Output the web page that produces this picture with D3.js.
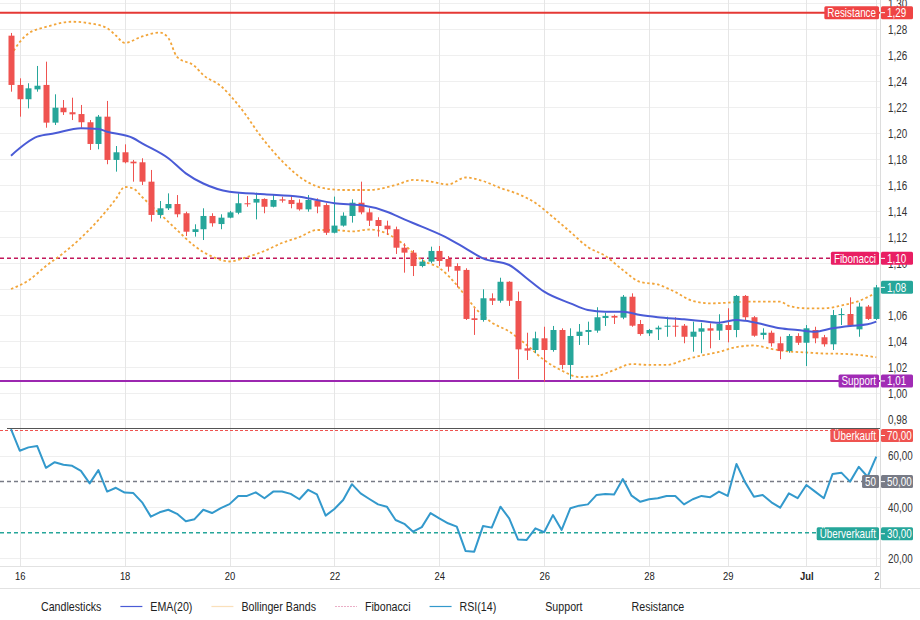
<!DOCTYPE html>
<html>
<head>
<meta charset="utf-8">
<script src="https://cdnjs.cloudflare.com/ajax/libs/d3/7.8.5/d3.min.js"></script>
<style>
body { margin: 0; background: #fff; }
svg text { font-family: "Liberation Sans", Arial, sans-serif; }
</style>
</head>
<body>
<svg id="chart" width="920" height="620"></svg>
<script>
var width = 920;
var height = 620;

// time axis
var tickIdx = [1, 13, 25, 37, 49, 61, 73, 82, 91, 99];
var tickLabels = ["16", "18", "20", "22", "24", "26", "28", "29", "Jul", "2"];

// candles
var open = [1.2751, 1.2372, 1.2262, 1.2338, 1.2372, 1.2082, 1.2197, 1.2162, 1.2148, 1.2085,
    1.1918, 1.2128, 1.1795, 1.1854, 1.1782, 1.1777, 1.1628, 1.1372, 1.1423, 1.1456,
    1.1385, 1.1241, 1.1262, 1.1364, 1.1302, 1.1351, 1.1389, 1.1462, 1.1467, 1.1495,
    1.1435, 1.1492, 1.1487, 1.1466, 1.1415, 1.1482, 1.1448, 1.1235, 1.1290, 1.1364,
    1.1466, 1.1392, 1.1333, 1.1290, 1.1262, 1.1120, 1.1082, 1.0979, 1.1013, 1.1095,
    1.1033, 1.0979, 1.0949, 1.0577, 1.0564, 1.0731, 1.0712, 1.0858, 1.0710, 1.0346,
    1.0333, 1.0423, 1.0333, 1.0487, 1.0218, 1.0441, 1.0472, 1.0482, 1.0579, 1.0595,
    1.0582, 1.0743, 1.0533, 1.0461, 1.0492, 1.0512, 1.0520, 1.0520, 1.0435, 1.0474,
    1.0500, 1.0482, 1.0525, 1.0487, 1.0749, 1.0585, 1.0449, 1.0466, 1.0385, 1.0325,
    1.0441, 1.0389, 1.0487, 1.0431, 1.0377, 1.0602, 1.0610, 1.0492, 1.0667, 1.0572];
var high = [1.2772, 1.2423, 1.2385, 1.2518, 1.2551, 1.2300, 1.2256, 1.2274, 1.2218, 1.2102,
    1.2141, 1.2249, 1.1902, 1.1915, 1.1795, 1.1808, 1.1718, 1.1479, 1.1538, 1.1525,
    1.1397, 1.1300, 1.1423, 1.1385, 1.1377, 1.1403, 1.1538, 1.1518, 1.1543, 1.1500,
    1.1533, 1.1512, 1.1518, 1.1492, 1.1525, 1.1500, 1.1462, 1.1513, 1.1392, 1.1492,
    1.1628, 1.1423, 1.1354, 1.1328, 1.1282, 1.1154, 1.1102, 1.1031, 1.1128, 1.1133,
    1.1056, 1.1000, 1.0962, 1.0654, 1.0800, 1.0769, 1.0889, 1.0862, 1.0782, 1.0466,
    1.0474, 1.0512, 1.0518, 1.0500, 1.0500, 1.0533, 1.0551, 1.0662, 1.0620, 1.0605,
    1.0756, 1.0769, 1.0564, 1.0495, 1.0520, 1.0589, 1.0585, 1.0533, 1.0551, 1.0543,
    1.0538, 1.0608, 1.0654, 1.0756, 1.0756, 1.0594, 1.0500, 1.0482, 1.0436, 1.0456,
    1.0462, 1.0525, 1.0512, 1.0449, 1.0641, 1.0654, 1.0738, 1.0697, 1.0679, 1.0833];
var low = [1.2320, 1.2128, 1.2192, 1.2320, 1.2043, 1.2064, 1.2141, 1.2102, 1.2043, 1.1872,
    1.1877, 1.1762, 1.1705, 1.1769, 1.1628, 1.1602, 1.1321, 1.1346, 1.1410, 1.1354,
    1.1210, 1.1205, 1.1179, 1.1282, 1.1262, 1.1346, 1.1377, 1.1435, 1.1338, 1.1385,
    1.1430, 1.1467, 1.1423, 1.1405, 1.1397, 1.1385, 1.1218, 1.1230, 1.1282, 1.1313,
    1.1377, 1.1287, 1.1205, 1.1218, 1.1072, 1.0928, 1.0902, 1.0969, 1.1000, 1.0979,
    1.0936, 1.0815, 1.0564, 1.0449, 1.0551, 1.0679, 1.0697, 1.0672, 1.0108, 1.0256,
    1.0308, 1.0089, 1.0320, 1.0185, 1.0108, 1.0372, 1.0372, 1.0466, 1.0518, 1.0533,
    1.0570, 1.0512, 1.0443, 1.0441, 1.0410, 1.0435, 1.0435, 1.0385, 1.0320, 1.0308,
    1.0346, 1.0410, 1.0392, 1.0431, 1.0564, 1.0435, 1.0415, 1.0359, 1.0262, 1.0312,
    1.0372, 1.0210, 1.0385, 1.0359, 1.0333, 1.0525, 1.0510, 1.0435, 1.0564, 1.0564];
var close = [1.2372, 1.2262, 1.2346, 1.2366, 1.2082, 1.2197, 1.2162, 1.2146, 1.2085, 1.1918,
    1.2128, 1.1795, 1.1854, 1.1777, 1.1769, 1.1628, 1.1372, 1.1423, 1.1456, 1.1377,
    1.1243, 1.1262, 1.1364, 1.1308, 1.1351, 1.1392, 1.1462, 1.1454, 1.1495, 1.1435,
    1.1487, 1.1482, 1.1456, 1.1415, 1.1487, 1.1436, 1.1235, 1.1290, 1.1366, 1.1466,
    1.1392, 1.1328, 1.1287, 1.1262, 1.1120, 1.1082, 1.0979, 1.1013, 1.1095, 1.1018,
    1.0974, 1.0943, 1.0572, 1.0564, 1.0731, 1.0712, 1.0858, 1.0712, 1.0338, 1.0328,
    1.0423, 1.0333, 1.0487, 1.0218, 1.0441, 1.0474, 1.0487, 1.0585, 1.0595, 1.0582,
    1.0743, 1.0520, 1.0456, 1.0487, 1.0505, 1.0520, 1.0512, 1.0435, 1.0474, 1.0500,
    1.0482, 1.0533, 1.0487, 1.0749, 1.0585, 1.0443, 1.0466, 1.0385, 1.0325, 1.0441,
    1.0389, 1.0500, 1.0423, 1.0377, 1.0602, 1.0610, 1.0520, 1.0667, 1.0572, 1.0815];

// EMA(20), [candle index, value]
var ema = [[0, 1.1828], [3, 1.1974], [5, 1.2000], [8, 1.2038], [10, 1.2033], [11, 1.2012],
    [14, 1.1962], [15, 1.1923], [18, 1.1808], [20, 1.1692], [22, 1.1614], [25, 1.1551],
    [29, 1.1531], [33, 1.1512], [35, 1.1487], [37, 1.1462], [40, 1.1448], [43, 1.1397],
    [45, 1.1338], [47, 1.1282], [50, 1.1192], [52, 1.1115], [54, 1.1038], [57, 1.0987],
    [59, 1.0885], [61, 1.0782], [64, 1.0692], [66, 1.0641], [68, 1.0628], [70, 1.0628],
    [72, 1.0602], [74, 1.0585], [77, 1.0569], [79, 1.0556], [81, 1.0543], [83, 1.0564],
    [84, 1.0558], [86, 1.0531], [88, 1.0500], [90, 1.0487], [92, 1.0474], [94, 1.0500],
    [96, 1.0518], [98, 1.0531], [99, 1.0551]];

// Bollinger Bands, [candle index, value]
var bbUpper = [[0, 1.2602], [1, 1.2702], [2, 1.2768], [4, 1.2818], [7, 1.2858], [9, 1.2846],
    [11, 1.2808], [12, 1.2752], [13, 1.2695], [15, 1.2745], [17, 1.2775], [18, 1.2733],
    [19, 1.2587], [21, 1.2518], [22, 1.2448], [24, 1.2364], [26, 1.2218], [29, 1.1941],
    [31, 1.1787], [34, 1.1622], [36, 1.1575], [38, 1.1564], [41, 1.1564], [44, 1.1602],
    [46, 1.1641], [48, 1.1629], [50, 1.1606], [52, 1.1660], [54, 1.1633], [56, 1.1579],
    [58, 1.1533], [60, 1.1464], [62, 1.1356], [64, 1.1241], [66, 1.1125], [68, 1.1056],
    [70, 1.0948], [72, 1.0856], [74, 1.0837], [76, 1.0779], [78, 1.0710], [80, 1.0692],
    [82, 1.0697], [84, 1.0705], [88, 1.0705], [89, 1.0672], [91, 1.0654], [93, 1.0654],
    [95, 1.0675], [97, 1.0710], [99, 1.0774]];
var bbLower = [[0, 1.0802], [2, 1.0868], [4, 1.0979], [6, 1.1079], [8, 1.1195], [10, 1.1333],
    [12, 1.1495], [13, 1.1587], [14, 1.1575], [15, 1.1510], [17, 1.1383], [19, 1.1256],
    [21, 1.1133], [23, 1.1052], [25, 1.1014], [27, 1.1048], [29, 1.1095], [31, 1.1156],
    [33, 1.1202], [35, 1.1256], [37, 1.1256], [39, 1.1245], [41, 1.1260], [43, 1.1229],
    [45, 1.1141], [47, 1.1025], [49, 1.0964], [51, 1.0833], [52, 1.0748], [53, 1.0664],
    [55, 1.0545], [57, 1.0475], [59, 1.0372], [61, 1.0256], [63, 1.0175], [65, 1.0125],
    [67, 1.0133], [69, 1.0179], [71, 1.0225], [73, 1.0218], [75, 1.0218], [77, 1.0256],
    [79, 1.0291], [81, 1.0318], [83, 1.0356], [85, 1.0368], [87, 1.0341], [89, 1.0322],
    [91, 1.0314], [93, 1.0306], [95, 1.0304], [97, 1.0295], [99, 1.0277]];

// RSI(14), one value per candle
var rsi = [70.5, 62.1, 63.4, 63.9, 55.4, 57.6, 56.6, 56.2, 54.2, 49.3,
    54.5, 46.1, 47.6, 45.7, 45.5, 41.9, 36.3, 38.0, 39.0, 37.4,
    34.5, 35.3, 39.0, 37.7, 39.6, 41.2, 44.4, 44.4, 45.8, 43.5,
    46.1, 46.1, 45.2, 43.1, 46.8, 45.0, 36.7, 39.3, 42.8, 49.0,
    45.4, 43.2, 41.1, 40.2, 35.0, 33.5, 30.4, 32.2, 37.7, 35.6,
    33.7, 32.4, 22.9, 22.6, 32.6, 32.0, 40.2, 35.6, 27.4, 27.2,
    31.7, 30.2, 36.9, 31.1, 39.6, 40.6, 41.1, 44.8, 45.2, 45.0,
    51.0, 44.5, 42.1, 43.1, 43.5, 44.4, 44.4, 41.1, 43.1, 44.4,
    43.9, 46.1, 44.4, 56.9, 49.7, 44.1, 44.8, 41.9, 39.8, 45.4,
    43.5, 48.7, 46.1, 43.5, 53.0, 53.5, 50.0, 55.8, 51.9, 59.8];

var priceTicks = [0.98, 1.00, 1.02, 1.04, 1.06, 1.10, 1.12, 1.14, 1.16,
    1.18, 1.20, 1.22, 1.24, 1.26, 1.28, 1.30];
var rsiTicks = [20, 40, 60];

var resistance = 1.2928;
var fibonacci = 1.1038;
var support = 1.0095;
var rsiLevelNames = ["Überkauft", "50", "Überverkauft"];
var rsiLevelValues = [70, 50, 30];

var legendLabels = ["Candlesticks", "EMA(20)", "Bollinger Bands", "Fibonacci", "RSI(14)", "Support", "Resistance"];

var upColor = "#26a69a";
var downColor = "#ef5350";
var emaColor = "#4a5bd6";
var bbColor = "#f2a53a";
var rsiColor = "#3399cc";
var resColor = "#e53935";
var supColor = "#9c27b0";
var fibColor = "#c2185b";
var squeezeK = 0.82; // text in the picture is horizontally condensed

var de = d3.formatLocale({ decimal: ",", thousands: ".", grouping: [3], currency: ["", "€"] });
var fmt = de.format(".2f");

// condense text horizontally around its own x
function squeeze(sel) {
    sel.each(function () {
        var t = d3.select(this);
        var tx = +t.attr("x") || 0;
        t.attr("transform", "translate(" + tx + ",0) scale(" + squeezeK + ",1) translate(" + (-tx) + ",0)");
    });
}

var svg = d3.select("#chart");
svg.append("rect").attr("width", width).attr("height", height).attr("fill", "#fff");

var x = d3.scaleLinear().domain([0, 99]).range([11, 876.3]);
var y = d3.scaleLinear().domain([1.0, 1.3]).range([393.3, 3.3]);
var yr = d3.scaleLinear().domain([20, 70]).range([558.3, 430.5]);

var plotRight = 880;

// grid
var grid = svg.append("g");
grid.selectAll("line.hp").data(priceTicks.concat([1.08])).enter().append("line")
    .attr("x1", 0).attr("x2", plotRight)
    .attr("y1", function (d) { return Math.round(y(d)) + 0.5; })
    .attr("y2", function (d) { return Math.round(y(d)) + 0.5; })
    .attr("stroke", "#efefef");
grid.selectAll("line.hr").data(rsiTicks).enter().append("line")
    .attr("x1", 0).attr("x2", plotRight)
    .attr("y1", function (d) { return Math.round(yr(d)) + 0.5; })
    .attr("y2", function (d) { return Math.round(yr(d)) + 0.5; })
    .attr("stroke", "#efefef");
grid.selectAll("line.v").data(tickIdx).enter().append("line")
    .attr("x1", function (d) { return Math.round(x(d)) + 0.5; })
    .attr("x2", function (d) { return Math.round(x(d)) + 0.5; })
    .attr("y1", 0).attr("y2", 566)
    .attr("stroke", "#e6e6e6");

// frame lines
svg.append("line").attr("x1", plotRight + 0.5).attr("x2", plotRight + 0.5).attr("y1", 0).attr("y2", 588)
    .attr("stroke", "#dcdcdc");
svg.append("line").attr("x1", 0).attr("x2", plotRight).attr("y1", 566.5).attr("y2", 566.5)
    .attr("stroke", "#e2e2e2");
svg.append("line").attr("x1", 0).attr("x2", width).attr("y1", 588.5).attr("y2", 588.5)
    .attr("stroke", "#e2e2e2");
svg.append("line").attr("x1", 7).attr("x2", plotRight).attr("y1", 428.5).attr("y2", 428.5)
    .attr("stroke", "#555").attr("stroke-width", 1);

// support / resistance / fibonacci
svg.append("line").attr("x1", 0).attr("x2", plotRight).attr("y1", y(resistance)).attr("y2", y(resistance))
    .attr("stroke", resColor).attr("stroke-width", 2);
svg.append("line").attr("x1", 0).attr("x2", plotRight).attr("y1", y(support)).attr("y2", y(support))
    .attr("stroke", supColor).attr("stroke-width", 2);
svg.append("line").attr("x1", 0).attr("x2", plotRight).attr("y1", y(fibonacci)).attr("y2", y(fibonacci))
    .attr("stroke", fibColor).attr("stroke-width", 1.5).attr("stroke-dasharray", "4,3");

// bollinger bands
var bbLine = d3.line()
    .x(function (d) { return x(d[0]); })
    .y(function (d) { return y(d[1]); })
    .curve(d3.curveMonotoneX);
[bbUpper, bbLower].forEach(function (band) {
    svg.append("path").datum(band)
        .attr("d", bbLine)
        .attr("fill", "none")
        .attr("stroke", bbColor)
        .attr("stroke-width", 1.8)
        .attr("stroke-dasharray", "2.5,2.5");
});

// candles
var idx = d3.range(open.length);
var candles = svg.append("g").selectAll("g").data(idx).enter().append("g");
candles.append("line")
    .attr("x1", function (i) { return Math.round(x(i)) + 0.5; })
    .attr("x2", function (i) { return Math.round(x(i)) + 0.5; })
    .attr("y1", function (i) { return y(high[i]); })
    .attr("y2", function (i) { return y(low[i]); })
    .attr("stroke", function (i) { return close[i] >= open[i] ? upColor : downColor; })
    .attr("stroke-width", 1);
candles.append("rect")
    .attr("x", function (i) { return Math.round(x(i)) - 2.5; })
    .attr("width", 6)
    .attr("y", function (i) { return y(Math.max(open[i], close[i])); })
    .attr("height", function (i) { return Math.max(1, Math.abs(y(open[i]) - y(close[i]))); })
    .attr("fill", function (i) { return close[i] >= open[i] ? upColor : downColor; });

// ema
svg.append("path").datum(ema)
    .attr("d", d3.line()
        .x(function (d) { return x(d[0]); })
        .y(function (d) { return y(d[1]); })
        .curve(d3.curveMonotoneX))
    .attr("fill", "none")
    .attr("stroke", emaColor)
    .attr("stroke-width", 2);

// rsi levels
var rsiLevelColors = [downColor, "#787b86", upColor];
svg.append("g").selectAll("line").data(rsiLevelValues).enter().append("line")
    .attr("x1", 0).attr("x2", plotRight)
    .attr("y1", function (d) { return yr(d); })
    .attr("y2", function (d) { return yr(d); })
    .attr("stroke", function (d, i) { return rsiLevelColors[i]; })
    .attr("stroke-width", function (d, i) { return i == 0 ? 1 : 1.5; })
    .attr("stroke-dasharray", function (d, i) { return i == 0 ? "3,2" : "4,3"; });

svg.append("path").datum(rsi)
    .attr("d", d3.line()
        .x(function (d, i) { return x(i); })
        .y(function (d) { return yr(d); }))
    .attr("fill", "none")
    .attr("stroke", rsiColor)
    .attr("stroke-width", 2)
    .attr("stroke-linejoin", "round");

// right axes
var priceAxis = svg.append("g")
    .attr("transform", "translate(" + plotRight + ",0)")
    .call(d3.axisRight(y).tickValues(priceTicks).tickFormat(fmt).tickSize(0).tickPadding(8));
var rsiAxis = svg.append("g")
    .attr("transform", "translate(" + plotRight + ",0)")
    .call(d3.axisRight(yr).tickValues(rsiTicks).tickFormat(fmt).tickSize(0).tickPadding(8));
[priceAxis, rsiAxis].forEach(function (a) {
    a.select(".domain").remove();
    a.selectAll("text").attr("fill", "#333").style("font-size", "12px").call(squeeze);
});

// time axis
var timeAxis = svg.append("g")
    .attr("transform", "translate(0,567)")
    .call(d3.axisBottom(x).tickValues(tickIdx)
        .tickFormat(function (d, i) { return tickLabels[i]; })
        .tickSize(0).tickPadding(5));
timeAxis.select(".domain").remove();
timeAxis.selectAll("text").attr("fill", "#222").style("font-size", "11.5px")
    .style("font-weight", function (d, i) { return tickLabels[i] == "Jul" ? "bold" : "normal"; })
    .call(squeeze);

// price tags on the right
function tag(yPos, name, value, color) {
    var g = svg.append("g");
    g.append("rect").attr("x", plotRight + 1).attr("y", yPos - 6.5)
        .attr("width", 32).attr("height", 13).attr("rx", 1.5).attr("fill", color);
    g.append("line").attr("x1", plotRight + 1).attr("x2", plotRight + 5)
        .attr("y1", yPos).attr("y2", yPos).attr("stroke", "#fff").attr("stroke-width", 1);
    g.append("text").attr("x", plotRight + 7).attr("y", yPos).attr("dy", "0.35em")
        .attr("fill", "#fff").style("font-size", "12px").text(value).call(squeeze);
    if (name) {
        var t = g.append("text").attr("x", plotRight - 4).attr("y", yPos).attr("dy", "0.35em")
            .attr("text-anchor", "end").attr("fill", "#fff").style("font-size", "12px").text(name)
            .call(squeeze);
        var w = t.node().getComputedTextLength() * squeezeK;
        g.insert("rect", "text:last-child")
            .attr("x", plotRight - 7 - w).attr("y", yPos - 6.5)
            .attr("width", w + 6).attr("height", 13).attr("rx", 1.5).attr("fill", color);
    }
}
tag(y(resistance), "Resistance", fmt(resistance), "#ef4444");
tag(y(fibonacci), "Fibonacci", fmt(fibonacci), "#e91e63");
tag(y(close[close.length - 1]), null, fmt(close[close.length - 1]), upColor);
tag(y(support), "Support", fmt(support), "#a12bb5");
var tagColors = ["#ef5350", "#787b86", "#26a69a"];
var tagShift = [5, 0, 1];
rsiLevelValues.forEach(function (v, i) {
    tag(yr(v) + tagShift[i], rsiLevelNames[i], fmt(v), tagColors[i]);
});

// legend
var legendMarks = [null, { c: emaColor, dash: null, o: 1 }, { c: bbColor, dash: null, o: 0.35 },
    { c: fibColor, dash: "2,1", o: 0.35 }, { c: rsiColor, dash: null, o: 1 }, null, null];
var lx = 11;
var legend = svg.append("g");
legendLabels.forEach(function (label, i) {
    var m = legendMarks[i];
    if (m) {
        legend.append("line").attr("x1", lx).attr("x2", lx + 22).attr("y1", 606.5).attr("y2", 606.5)
            .attr("stroke", m.c).attr("stroke-opacity", m.o).attr("stroke-width", 1.2)
            .attr("stroke-dasharray", m.dash);
    }
    var t = legend.append("text").attr("x", lx + 30).attr("y", 606).attr("dy", "0.35em")
        .attr("fill", "#222").style("font-size", "13px").text(label).call(squeeze);
    lx += 30 + t.node().getComputedTextLength() * squeezeK + 19;
});
</script>
</body>
</html>
